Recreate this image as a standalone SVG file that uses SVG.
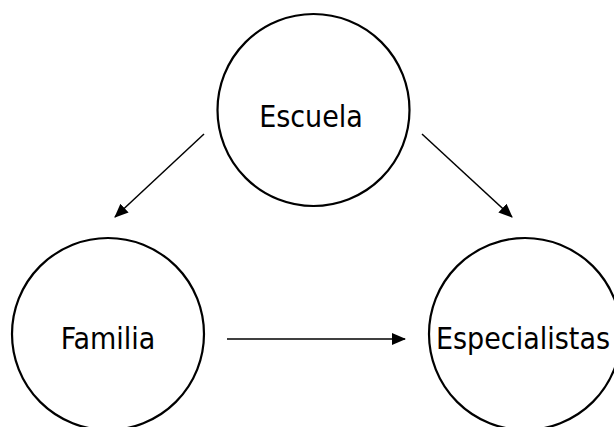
<svg xmlns="http://www.w3.org/2000/svg" width="614" height="427" viewBox="0 0 614 427">
<style>
.node{fill:#fff;stroke:#000;stroke-width:2.2}
.lbl{font-family:"DejaVu Sans Condensed","DejaVu Sans","Liberation Sans",sans-serif;font-stretch:condensed;font-size:30px;fill:#000;text-anchor:middle}
.edge{stroke:#000;stroke-width:1.5;fill:none;marker-end:url(#arr)}
</style>
<defs>
<marker id="arr" markerUnits="userSpaceOnUse" markerWidth="14" markerHeight="14" viewBox="0 0 14 14" refX="13" refY="7" orient="auto">
<path d="M0,1 L14,7 L0,13 Z" fill="#000"/>
</marker>
</defs>
<rect width="614" height="427" fill="#fff"/>
<g id="escuela">
<circle class="node" cx="313.5" cy="110" r="96"/>
<text class="lbl" x="311" y="127">Escuela</text>
</g>
<g id="familia">
<circle class="node" cx="108" cy="334" r="96"/>
<text class="lbl" x="108" y="349">Familia</text>
</g>
<g id="especialistas">
<circle class="node" cx="525" cy="334" r="96"/>
<text class="lbl" x="523" y="349">Especialistas</text>
</g>
<g id="connectors">
<line class="edge" x1="204" y1="134" x2="115" y2="217"/>
<line class="edge" x1="422" y1="134" x2="512" y2="217"/>
<line class="edge" x1="227" y1="339" x2="405" y2="339"/>
</g>
</svg>
